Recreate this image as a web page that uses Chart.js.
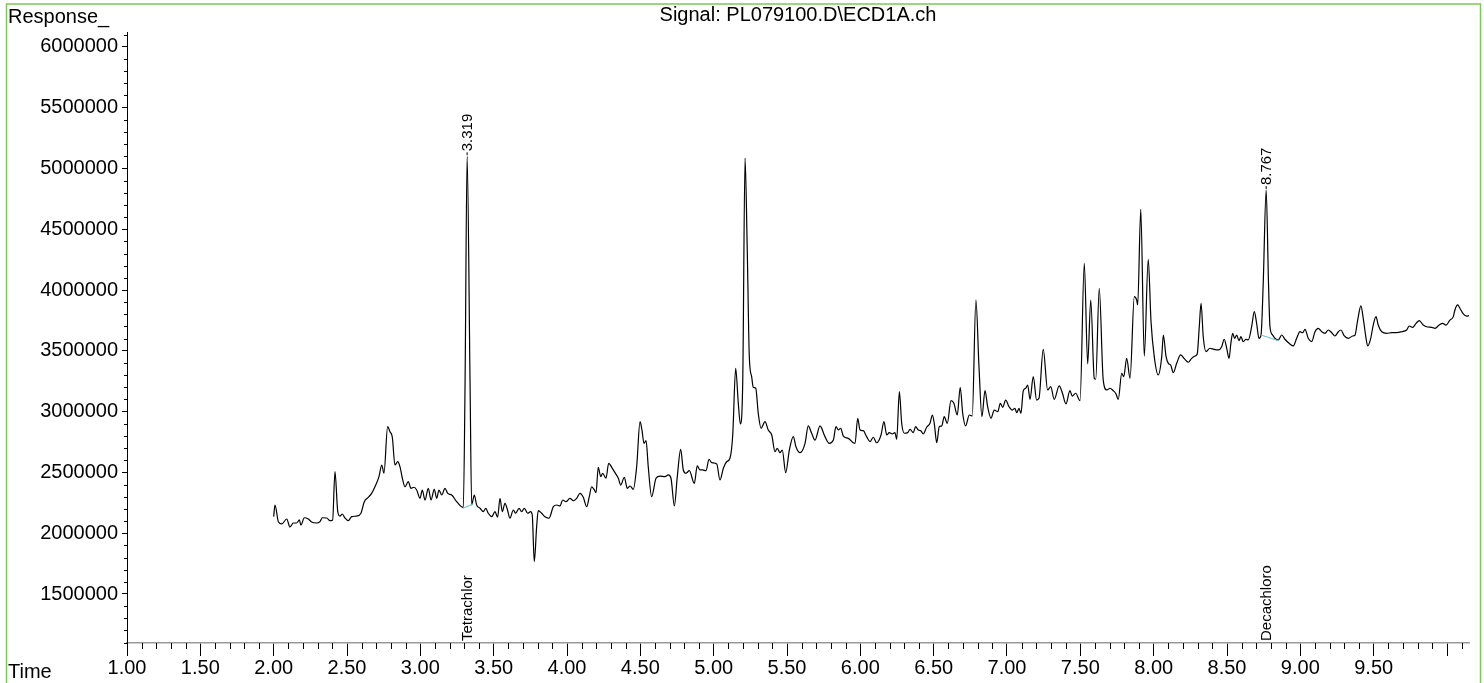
<!DOCTYPE html>
<html>
<head>
<meta charset="utf-8">
<title>Signal: PL079100.D\ECD1A.ch</title>
<script src="https://cdn.jsdelivr.net/npm/chart.js@4.4.1/dist/chart.umd.min.js"></script>
<style>
  html, body { margin: 0; padding: 0; background: #fff; }
  #wrap { width: 1484px; height: 683px; }
</style>
</head>
<body>
<div id="wrap"><canvas id="chrom" width="1484" height="683"></canvas></div>
<script>
// Retention time (min) and detector response
const times = [
  2.000, 2.009, 2.032, 2.055, 2.089, 2.111, 2.134, 2.157, 2.175, 2.186,
  2.209, 2.236, 2.259, 2.293, 2.316, 2.332, 2.362, 2.384, 2.402, 2.418,
  2.437, 2.452, 2.468, 2.486, 2.509, 2.532, 2.566, 2.595, 2.618, 2.645,
  2.668, 2.696, 2.718, 2.737, 2.752, 2.777, 2.793, 2.809, 2.827, 2.846,
  2.861, 2.880, 2.895, 2.918, 2.936, 2.957, 2.975, 2.998, 3.013, 3.032,
  3.054, 3.073, 3.095, 3.112, 3.127, 3.146, 3.168, 3.187, 3.214, 3.248,
  3.293, 3.305, 3.319, 3.339, 3.350, 3.368, 3.384, 3.407, 3.429, 3.446,
  3.463, 3.487, 3.509, 3.527, 3.543, 3.559, 3.577, 3.593, 3.611, 3.634,
  3.650, 3.673, 3.691, 3.709, 3.732, 3.752, 3.763, 3.777, 3.793, 3.804,
  3.827, 3.850, 3.877, 3.907, 3.930, 3.952,
  3.971, 3.993, 4.020, 4.043, 4.066, 4.089, 4.111, 4.134, 4.152, 4.168,
  4.184, 4.198, 4.213, 4.230, 4.243, 4.266, 4.284, 4.305, 4.327, 4.350,
  4.366, 4.391, 4.411, 4.430, 4.452, 4.475, 4.498, 4.511, 4.525, 4.539,
  4.554, 4.577, 4.607, 4.634, 4.668, 4.691, 4.709, 4.732, 4.752, 4.775,
  4.793, 4.811, 4.834, 4.868, 4.888, 4.907, 4.925, 4.948, 4.968, 4.987,
  5.021, 5.043, 5.066, 5.089, 5.111, 5.130, 5.150, 5.168, 5.182, 5.198,
  5.214, 5.229, 5.243, 5.259, 5.270, 5.287, 5.304, 5.323, 5.350, 5.372,
  5.396, 5.418, 5.434, 5.452, 5.468, 5.491, 5.516, 5.543, 5.561, 5.589,
  5.623, 5.645, 5.668, 5.691, 5.725, 5.759, 5.788, 5.816, 5.834, 5.850,
  5.866, 5.884, 5.918, 5.952, 5.964, 5.982, 5.998,
  6.020, 6.043, 6.066, 6.088, 6.111, 6.141, 6.161, 6.180, 6.197, 6.218,
  6.236, 6.248, 6.266, 6.282, 6.300, 6.323, 6.339, 6.361, 6.377, 6.395,
  6.412, 6.429, 6.452, 6.475, 6.491, 6.504, 6.521, 6.538, 6.555, 6.572,
  6.593, 6.618, 6.638, 6.661, 6.681, 6.698, 6.718, 6.743, 6.763, 6.788,
  6.809, 6.829, 6.850, 6.868, 6.891, 6.913, 6.937, 6.954, 6.971, 6.991,
  7.014, 7.036, 7.054, 7.066, 7.082, 7.095, 7.111, 7.127, 7.141, 7.157,
  7.179, 7.202, 7.218, 7.247, 7.277, 7.298, 7.322, 7.356, 7.377, 7.402,
  7.429, 7.445, 7.468, 7.498, 7.527, 7.550, 7.571, 7.595, 7.605, 7.629,
  7.656, 7.680, 7.702, 7.725, 7.741, 7.759, 7.782, 7.796, 7.816, 7.839,
  7.868, 7.884, 7.891, 7.912, 7.936, 7.963, 7.982, 8.004, 8.031, 8.055,
  8.066, 8.084,
  8.100, 8.116, 8.134, 8.157, 8.184, 8.207, 8.236, 8.259, 8.282, 8.297,
  8.311, 8.323, 8.338, 8.357, 8.384, 8.411, 8.441, 8.464, 8.481, 8.498,
  8.514, 8.527, 8.539, 8.552, 8.566, 8.582, 8.595, 8.611, 8.629, 8.645,
  8.668, 8.686, 8.702, 8.718, 8.732, 8.747, 8.767, 8.783, 8.793, 8.811,
  8.827, 8.850, 8.873, 8.895, 8.929, 8.952, 8.975, 8.998, 9.016, 9.032,
  9.054, 9.077, 9.100, 9.122, 9.146, 9.168, 9.191, 9.214, 9.236, 9.259,
  9.277, 9.300, 9.327, 9.357, 9.373, 9.391, 9.413, 9.429, 9.448, 9.459,
  9.480, 9.497, 9.516, 9.531, 9.555, 9.589, 9.623, 9.657, 9.691, 9.725,
  9.743, 9.766, 9.789, 9.811, 9.838, 9.861, 9.896, 9.918, 9.947, 9.971,
  9.993, 10.020, 10.043, 10.054, 10.073, 10.088, 10.111, 10.134, 10.150
];

const responses = [
  2136000, 2232000, 2095000, 2076000, 2117000, 2051000, 2084000, 2084000, 2109000, 2067000,
  2127000, 2117000, 2092000, 2084000, 2095000, 2127000, 2125000, 2103000, 2109000, 2506000,
  2177000, 2141000, 2158000, 2125000, 2103000, 2136000, 2141000, 2164000, 2259000, 2295000,
  2328000, 2396000, 2465000, 2561000, 2493000, 2876000, 2835000, 2789000, 2561000, 2588000,
  2547000, 2438000, 2382000, 2424000, 2369000, 2378000, 2355000, 2287000, 2355000, 2273000,
  2369000, 2273000, 2361000, 2287000, 2355000, 2314000, 2369000, 2328000, 2314000, 2259000,
  2210000, 3235000, 5100000, 3235000, 2232000, 2314000, 2232000, 2205000, 2177000, 2205000,
  2164000, 2136000, 2177000, 2131000, 2287000, 2177000, 2246000, 2197000, 2123000, 2191000,
  2164000, 2205000, 2177000, 2205000, 2164000, 2177000, 2150000, 1766000, 2053000, 2185000,
  2164000, 2136000, 2123000, 2218000, 2232000, 2224000,
  2273000, 2259000, 2287000, 2267000, 2287000, 2328000, 2295000, 2218000, 2300000, 2382000,
  2361000, 2333000, 2542000, 2465000, 2493000, 2452000, 2575000, 2542000, 2498000, 2452000,
  2396000, 2460000, 2369000, 2388000, 2361000, 2547000, 2917000, 2849000, 2739000, 2761000,
  2547000, 2300000, 2452000, 2470000, 2465000, 2479000, 2452000, 2224000, 2465000, 2690000,
  2520000, 2493000, 2514000, 2410000, 2553000, 2520000, 2520000, 2514000, 2608000, 2580000,
  2569000, 2438000, 2534000, 2588000, 2616000, 2808000, 3356000, 3068000, 2898000, 3233000,
  5085000, 4329000, 3452000, 3287000, 3200000, 3192000, 2986000, 2863000, 2917000, 2849000,
  2808000, 2670000, 2698000, 2662000, 2684000, 2498000, 2684000, 2794000, 2711000, 2662000,
  2739000, 2882000, 2822000, 2766000, 2882000, 2794000, 2739000, 2766000, 2876000, 2849000,
  2863000, 2799000, 2780000, 2744000, 2739000, 2945000, 2849000,
  2843000, 2794000, 2753000, 2789000, 2744000, 2808000, 2917000, 2808000, 2827000, 2816000,
  2827000, 2772000, 3164000, 2904000, 2822000, 2827000, 2854000, 2827000, 2876000, 2849000,
  2843000, 2816000, 2871000, 2904000, 2972000, 2904000, 2744000, 2876000, 2882000, 2958000,
  2904000, 3090000, 3068000, 2972000, 3200000, 2986000, 2882000, 2972000, 2964000, 3920000,
  3369000, 2958000, 3172000, 3040000, 2945000, 3013000, 2999000, 3068000, 3035000, 3095000,
  3040000, 3013000, 3027000, 2991000, 3027000, 2986000, 3172000, 3192000, 3219000, 3101000,
  3287000, 3095000, 3109000, 3512000, 3178000, 3205000, 3101000, 3211000, 3155000, 3063000,
  3172000, 3128000, 3151000, 3090000, 4220000, 3392000, 3918000, 3274000, 3266000, 4014000,
  3260000, 3178000, 3192000, 3172000, 3151000, 3101000, 3315000, 3287000, 3438000, 3274000,
  3945000, 3918000, 3877000, 4664000, 3457000, 4253000, 3739000, 3452000, 3301000, 3452000,
  3630000, 3457000,
  3397000, 3383000, 3320000, 3397000, 3466000, 3438000, 3406000, 3438000, 3457000, 3474000,
  3698000, 3891000, 3616000, 3493000, 3521000, 3512000, 3507000, 3534000, 3595000, 3521000,
  3438000, 3567000, 3644000, 3603000, 3630000, 3583000, 3616000, 3575000, 3595000, 3589000,
  3698000, 3822000, 3726000, 3603000, 3630000, 4055000, 4822000, 4055000, 3698000, 3630000,
  3603000, 3589000, 3630000, 3595000, 3556000, 3540000, 3603000, 3657000, 3649000, 3677000,
  3603000, 3575000, 3657000, 3685000, 3657000, 3644000, 3671000, 3649000, 3622000, 3657000,
  3671000, 3622000, 3603000, 3622000, 3630000, 3753000, 3869000, 3767000, 3603000, 3540000,
  3603000, 3712000, 3781000, 3712000, 3657000, 3644000, 3649000, 3649000, 3657000, 3671000,
  3704000, 3693000, 3726000, 3748000, 3712000, 3698000, 3693000, 3685000, 3712000, 3726000,
  3712000, 3753000, 3781000, 3836000, 3877000, 3850000, 3803000, 3786000, 3789000
];

// integration baselines under the two identified peaks
const baseTimesA = [3.289, 3.361];
const baseValuesA = [2205000, 2240000];
const baseTimesB = [8.732, 8.850];
const baseValuesB = [3630000, 3583000];

// identified peaks
const peakTimes = [3.319, 8.767];
const peakHeights = [5100000, 4822000];
const peakLabels = ['3.319', '8.767'];
const compoundNames = ['Tetrachlor', 'Decachloro'];

// axis ticks
const xTickValues = [1.0, 1.5, 2.0, 2.5, 3.0, 3.5, 4.0, 4.5, 5.0, 5.5, 6.0, 6.5, 7.0, 7.5, 8.0, 8.5, 9.0, 9.5, 10.0];
const yTickValues = [1500000, 2000000, 2500000, 3000000, 3500000, 4000000, 4500000, 5000000, 5500000, 6000000];

const FONT = '"Liberation Sans", Arial, Helvetica, sans-serif';
Chart.defaults.font.family = FONT;
Chart.defaults.color = '#000';

function pts(xs, ys) {
  return xs.map((t, i) => ({ x: t, y: ys[i] }));
}

// minor ticks, peak annotations, labels and frame
const decor = {
  id: 'decor',
  afterDraw(chart) {
    const { ctx, chartArea: a } = chart;
    const xs = chart.scales.x, ys = chart.scales.y;
    ctx.save();
    ctx.strokeStyle = '#000';
    ctx.lineWidth = 1;
    ctx.beginPath();
    for (let k = 11; k <= 101; k++) {
      if (k % 5 === 0) continue;
      const px = Math.round(xs.getPixelForValue(k / 10)) + 0.5;
      ctx.moveTo(px, a.bottom);
      ctx.lineTo(px, a.bottom + 6);
    }
    for (let k = 11; k <= 61; k++) {
      if (k % 5 === 0) continue;
      const py = Math.round(ys.getPixelForValue(k * 100000)) + 0.5;
      ctx.moveTo(a.left - 3, py);
      ctx.lineTo(a.left, py);
    }
    ctx.stroke();

    ctx.fillStyle = '#000';
    ctx.font = '15px ' + FONT;
    ctx.textAlign = 'left';
    ctx.textBaseline = 'middle';
    peakTimes.forEach((t, i) => {
      const px = xs.getPixelForValue(t);
      const py = ys.getPixelForValue(peakHeights[i]);
      ctx.beginPath();
      ctx.moveTo(px, py - 1);
      ctx.lineTo(px, py - 4);
      ctx.stroke();
      ctx.save();
      ctx.translate(px, py - 5);
      ctx.rotate(-Math.PI / 2);
      ctx.fillText(peakLabels[i], 0, 1);
      ctx.restore();
      ctx.save();
      ctx.translate(px, a.bottom - 2);
      ctx.rotate(-Math.PI / 2);
      ctx.fillText(compoundNames[i], 0, 1);
      ctx.restore();
    });

    ctx.font = '20px ' + FONT;
    ctx.textBaseline = 'alphabetic';
    ctx.textAlign = 'left';
    ctx.fillText('Response_', 8, 23);
    ctx.fillText('Time', 8, 678);
    ctx.textAlign = 'center';
    ctx.fillText('Signal: PL079100.D\\ECD1A.ch', (a.left + a.right) / 2, 21);

    ctx.strokeStyle = '#7cc855';
    ctx.lineWidth = 1.5;
    ctx.strokeRect(6.5, 4, 1474, 700);
    ctx.restore();
  }
};

const ctx = document.getElementById('chrom').getContext('2d');
const chromChart = new Chart(ctx, {
  type: 'line',
  data: {
    datasets: [
      { data: pts(baseTimesA, baseValuesA), borderColor: '#66c6dc', borderWidth: 1.2, pointRadius: 0 },
      { data: pts(baseTimesB, baseValuesB), borderColor: '#66c6dc', borderWidth: 1.2, pointRadius: 0 },
      { data: pts(times, responses), borderColor: '#000', borderWidth: 1.2, pointRadius: 0, cubicInterpolationMode: 'monotone' }
    ]
  },
  options: {
    responsive: false,
    animation: false,
    layout: { padding: { top: 32, right: 15, left: 0, bottom: 0 } },
    plugins: { legend: { display: false }, tooltip: { enabled: false } },
    scales: {
      x: {
        type: 'linear',
        min: 1,
        max: 10.15,
        afterBuildTicks: s => { s.ticks = xTickValues.map(v => ({ value: v })); },
        afterFit: s => { s.height = 40; },
        ticks: {
          callback: v => (v >= 9.99 ? '' : Number(v).toFixed(2)),
          font: { size: 20 },
          color: '#000',
          padding: 0,
          maxRotation: 0,
          autoSkip: false
        },
        grid: { drawOnChartArea: false, tickLength: 13, color: '#000' },
        border: { color: '#999', width: 1.5 }
      },
      y: {
        min: 1097000,
        max: 6122000,
        afterBuildTicks: s => { s.ticks = yTickValues.map(v => ({ value: v })); },
        afterFit: s => { s.width = 127; },
        ticks: {
          callback: v => String(v),
          font: { size: 20 },
          color: '#000',
          padding: 4,
          autoSkip: false
        },
        grid: { drawOnChartArea: false, tickLength: 5, color: '#000' },
        border: { color: '#000', width: 1 }
      }
    }
  },
  plugins: [decor]
});
</script>
</body>
</html>
